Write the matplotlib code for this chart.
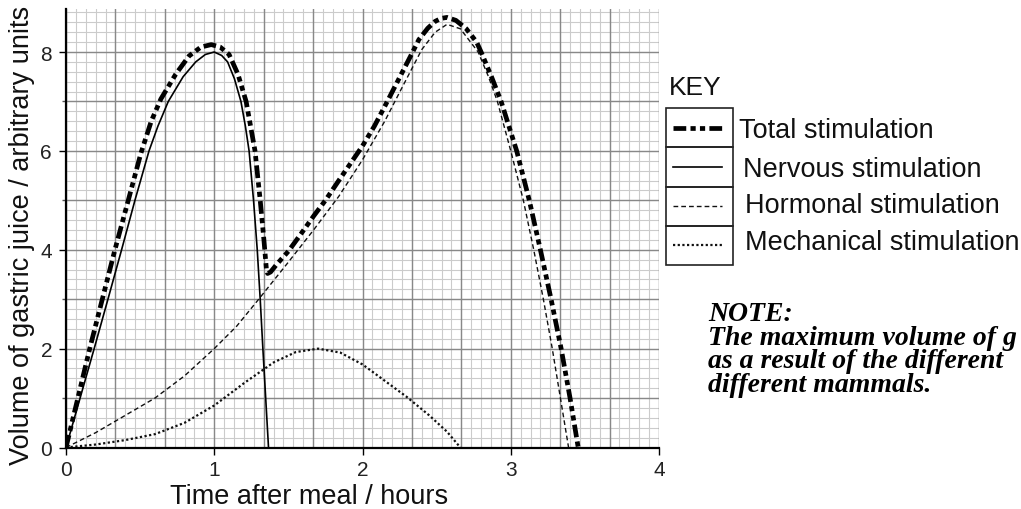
import numpy as np
from matplotlib import pyplot as plt
from matplotlib.lines import Line2D
from matplotlib.patches import Rectangle

# valores (tempo em horas, volume em unidades arbitrarias)
total_t = [0, 0.04, 0.08, 0.16, 0.245, 0.33, 0.42, 0.505, 0.575, 0.64, 0.74, 0.83, 0.91, 0.98,
           1.04, 1.10, 1.16, 1.215, 1.275, 1.31, 1.335, 1.352, 1.36, 1.38, 1.42, 1.5, 1.58,
           1.67, 1.75, 1.84, 1.92, 2.0, 2.08, 2.15, 2.21, 2.27, 2.33, 2.38, 2.44, 2.49, 2.53,
           2.57, 2.63, 2.7, 2.77, 2.8, 2.87, 2.935, 3.04, 3.125, 3.2, 3.272, 3.34, 3.4, 3.455]
total_v = [0, 0.5, 1.0, 2.0, 3.0, 4.0, 5.0, 5.95, 6.6, 7.05, 7.55, 7.92, 8.1, 8.15,
           8.1, 7.95, 7.55, 7.0, 6.0, 5.0, 4.2, 3.6, 3.52, 3.55, 3.7, 3.97, 4.3,
           4.68, 5.0, 5.4, 5.75, 6.1, 6.5, 6.9, 7.25, 7.6, 7.95, 8.25, 8.48, 8.62, 8.68,
           8.7, 8.64, 8.47, 8.2, 8.0, 7.5, 7.0, 6.0, 5.0, 4.0, 3.0, 2.0, 1.0, 0]

nervous_t = [0, 0.095, 0.19, 0.283, 0.375, 0.465, 0.56, 0.62, 0.69, 0.79, 0.875, 0.94, 1.0,
             1.05, 1.09, 1.136, 1.18, 1.21, 1.235, 1.265, 1.29, 1.31, 1.328, 1.347, 1.366]
nervous_v = [0, 1.0, 2.0, 3.0, 4.0, 5.0, 6.0, 6.5, 7.0, 7.5, 7.8, 7.95, 8.0,
             7.93, 7.8, 7.46, 7.0, 6.5, 6.0, 5.0, 4.0, 3.0, 2.0, 1.0, 0]

hormonal_t = [0, 0.2, 0.4, 0.6, 0.8, 1.0, 1.15, 1.3, 1.5, 1.67, 1.84, 2.0, 2.15, 2.27,
              2.4, 2.49, 2.57, 2.66, 2.78, 2.85, 2.91, 3.0, 3.085, 3.155, 3.22, 3.28, 3.335, 3.39]
hormonal_v = [0, 0.3, 0.65, 1.0, 1.45, 2.0, 2.45, 3.0, 3.75, 4.4, 5.08, 5.82, 6.6, 7.3,
              8.05, 8.4, 8.56, 8.47, 8.0, 7.5, 7.0, 6.0, 5.0, 4.0, 3.0, 2.0, 1.0, 0]

mech_t = [0, 0.2, 0.4, 0.6, 0.8, 1.0, 1.2, 1.4, 1.55, 1.7, 1.85, 2.0, 2.15, 2.3, 2.45, 2.57, 2.66]
mech_v = [0, 0.06, 0.15, 0.27, 0.5, 0.85, 1.3, 1.72, 1.93, 2.0, 1.92, 1.68, 1.35, 1.02, 0.65, 0.32, 0]

x_ticks = [0, 1, 2, 3, 4]
y_ticks = [0, 2, 4, 6, 8]
y_minor = [1, 3, 5, 7]

legend_labels = ["Total stimulation", "Nervous stimulation", "Hormonal stimulation", "Mechanical stimulation"]
note_lines = ["NOTE:", "The maximum volume of g", "as a result of the different", "different mammals."]

# estilos das linhas
st_total = dict(color="black", lw=3.4, linestyle=(0, (2.7, 0.9, 1.1, 0.9, 1.1, 0.9)))
st_nervous = dict(color="black", lw=1.2, linestyle="-")
st_hormonal = dict(color="#111111", lw=1.0, linestyle=(0, (3.4, 2.2)))
st_mech = dict(color="#111111", lw=1.6, linestyle=(0, (1.0, 1.1)))

plt.rcParams['font.family'] = ['Liberation Sans', 'DejaVu Sans']

fig = plt.figure(figsize=(10.21, 5.10), dpi=100)
ax = fig.add_axes([66/1021, 61.5/510, 593/1021, 438.5/510])
ax.set_xlim(0, 4)
ax.set_ylim(0, 8.87)

# papel milimetrado
for xv in np.arange(0, 4.001, 1/15):
    ax.axvline(xv, color="#cbcbcb", lw=0.8, zorder=0)
for yv in np.arange(0, 8.87, 0.2):
    ax.axhline(yv, color="#cbcbcb", lw=0.8, zorder=0)
for xv in np.arange(0, 4.001, 1/3):
    ax.axvline(xv, color="#888888", lw=1.0, zorder=0.5)
for yv in np.arange(0, 8.87, 1.0):
    ax.axhline(yv, color="#888888", lw=1.0, zorder=0.5)

ax.plot(mech_t, mech_v, **st_mech, zorder=2)
ax.plot(hormonal_t, hormonal_v, **st_hormonal, zorder=2)
ax.plot(nervous_t, nervous_v, **st_nervous, zorder=3)
ax.plot(total_t, total_v, **st_total, zorder=4)

for s in ["top", "right"]:
    ax.spines[s].set_visible(False)
for s in ["left", "bottom"]:
    ax.spines[s].set_linewidth(1.6)
    ax.spines[s].set_zorder(5)

ax.set_xticks(x_ticks)
ax.set_yticks(y_ticks)
ax.set_yticks(y_minor, minor=True)
ax.tick_params(axis="x", length=5, width=1, pad=4, labelsize=15, labelcolor="#222222")
ax.tick_params(axis="y", length=5, width=1, pad=5, labelsize=15, labelcolor="#222222")
ax.tick_params(axis="y", which="minor", length=3, width=1, color="#555555")
ax.set_xlabel("Time after meal / hours", fontsize=19.5, color="#111111")
ax.xaxis.set_label_coords(0.41, -0.08)
ax.set_ylabel("Volume of gastric juice / arbitrary units", fontsize=19.5, color="#111111")
ax.yaxis.set_label_coords(-0.053, 0.486)

# chave (legenda) desenhada a mao
fig.text(669/1021, 1 - 88/510, "KEY", fontsize=19, va="center", ha="left", color="#111111")
estilos = [st_total, st_nervous, st_hormonal, st_mech]
label_x = [739, 743, 745, 745]
label_y = [131, 170, 206, 243]
row_h = 39.25
for i in range(4):
    top = 109 + i*row_h
    fig.add_artist(Rectangle((666/1021, 1 - (top + row_h)/510), 67/1021, row_h/510,
                             transform=fig.transFigure, fill=False, lw=1.2, edgecolor="#222222"))
    yc = 1 - (top + row_h/2)/510
    fig.add_artist(Line2D([673/1021, 722/1021], [yc, yc], transform=fig.transFigure, **estilos[i]))
    fig.text(label_x[i]/1021, 1 - label_y[i]/510, legend_labels[i], fontsize=19.5,
             va="center", ha="left", color="#111111")

# nota (um unico bloco de texto, linhas bem juntas como no original)
fig.text(708/1021, 1 - 302/510, "\n".join(note_lines), fontsize=20, family="Liberation Serif",
         weight="bold", style="italic", va="top", ha="left", linespacing=0.93)

fig.savefig("out.png", dpi=100)
